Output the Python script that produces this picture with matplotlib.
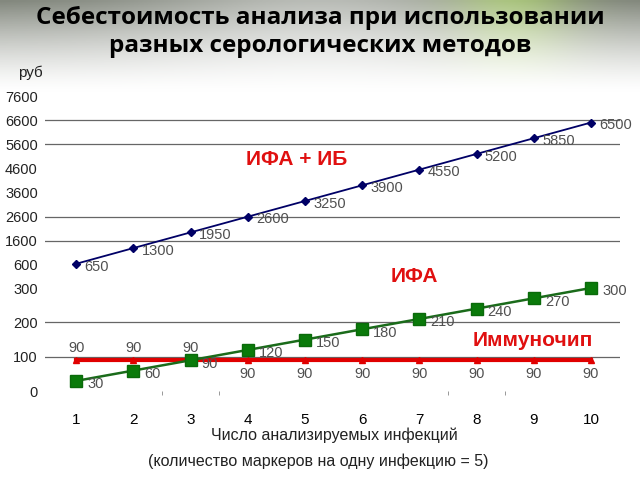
import matplotlib.pyplot as plt
import numpy as np

plt.rcParams['font.family'] = ['Liberation Sans', 'DejaVu Sans']

infections = [1, 2, 3, 4, 5, 6, 7, 8, 9, 10]
ifa_ib = [650, 1300, 1950, 2600, 3250, 3900, 4550, 5200, 5850, 6500]
ifa = [30, 60, 90, 120, 150, 180, 210, 240, 270, 300]
immunochip = [90, 90, 90, 90, 90, 90, 90, 90, 90, 90]

top_ticks = [600, 1600, 2600, 3600, 4600, 5600, 6600, 7600]
top_grid = [1600, 2600, 5600, 6600]
bottom_ticks = [0, 100, 200, 300]
bottom_grid = [100, 200]

fig = plt.figure(figsize=(6.4, 4.8), dpi=100)

# background: grey-green fade at the top
bg = fig.add_axes([0, 0, 1, 1], zorder=-10)
h = np.linspace(0, 1, 200)
fade = np.clip(1 - h / 0.19, 0, 1) ** 1.4
img = np.ones((200, 320, 3))
xs = np.linspace(0, 1, 320)
green = np.exp(-((xs - 0.8) / 0.1) ** 2)
glow = np.exp(-((xs - 0.5) / 0.3) ** 2)
for c, (base, g) in enumerate(zip([0.5, 0.52, 0.48], [0.6, 0.72, 0.4])):
    col = base * (1 - green[None, :]) + g * green[None, :]
    col = col + (1 - col) * 0.45 * glow[None, :]
    img[:, :, c] = 1 - fade[:, None] * (1 - col)
bg.imshow(img, aspect='auto', extent=[0, 1, 0, 1])
bg.set_axis_off()

fig.text(0.5, 0.963, "Себестоимость анализа при использовании",
         ha='center', va='center', fontsize=17.5, fontweight='bold',
         family=['Open Sans', 'DejaVu Sans'])
fig.text(0.5, 0.905, "разных серологических методов",
         ha='center', va='center', fontsize=17.5, fontweight='bold',
         family=['Open Sans', 'DejaVu Sans'])
fig.text(0.028, 0.848, "руб", fontsize=11, va='center', color='#222222')

ax1 = fig.add_axes([0.07, 0.448, 0.898, 0.352])
ax2 = fig.add_axes([0.07, 0.185, 0.898, 0.215])

for ax in (ax1, ax2):
    ax.patch.set_alpha(0)
    for s in ax.spines.values():
        s.set_visible(False)
    ax.set_xlim(0.45, 10.5)
    ax.tick_params(axis='y', length=0, labelsize=10.5, labelcolor='#222222', pad=5)

label_color = '#505050'

# top panel
ax1.set_ylim(600, 7600)
ax1.set_yticks(top_ticks)
ax1.set_xticks([])
for g in top_grid:
    ax1.axhline(g, color='#666666', lw=0.9, zorder=0)
ax1.plot(infections, ifa_ib, color='#000066', lw=1.3, marker='D', markersize=4.5, clip_on=False)
for x, y in zip(infections, ifa_ib):
    ax1.annotate(str(y), (x, y), xytext=(6, -2), textcoords='offset points',
                 fontsize=10.5, color=label_color, va='center')

# bottom panel
ax2.set_ylim(0, 300)
ax2.set_yticks(bottom_ticks)
for g in bottom_grid:
    ax2.axhline(g, color='#666666', lw=0.9, zorder=0)
ax2.plot(infections, immunochip, color='#e00000', lw=3, marker='^', markersize=4, zorder=2,
         clip_on=False)
ax2.plot(infections, ifa, color='#1a6b1a', lw=1.8, marker='s', markersize=8.5,
         markerfacecolor='#0a7a0a', markeredgecolor='#0a6a0a', zorder=3, clip_on=False)
for x, y in zip(infections, ifa):
    ax2.annotate(str(y), (x, y), xytext=(8, -2.5), textcoords='offset points',
                 fontsize=10.5, color=label_color, va='center')
for x, y in zip(infections, immunochip):
    if x <= 3:
        ax2.annotate(str(y), (x, y), xytext=(0, 9), textcoords='offset points',
                     fontsize=10.5, color=label_color, ha='center', va='center')
    else:
        ax2.annotate(str(y), (x, y), xytext=(0, -10), textcoords='offset points',
                     fontsize=10.5, color=label_color, ha='center', va='center')

ax2.set_xticks(infections)
ax2.set_xticks([2.5, 3.5, 7.5, 8.5], minor=True)
ax2.tick_params(axis='x', which='major', length=0, labelsize=11, pad=16)
ax2.tick_params(axis='x', which='minor', length=3, color='#888888', direction='out')

# series names
fig.text(0.463, 0.667, "ИФА + ИБ", color='#e01010', fontsize=15, fontweight='bold',
         ha='center', va='center')
fig.text(0.648, 0.425, "ИФА", color='#e01010', fontsize=15, fontweight='bold',
         ha='center', va='center')
fig.text(0.833, 0.29, "Иммуночип", color='#e01010', fontsize=15, fontweight='bold',
         ha='center', va='center')

fig.text(0.523, 0.094, "Число анализируемых инфекций", ha='center', va='center',
         fontsize=11.5, color='#222222')
fig.text(0.498, 0.04, "(количество маркеров на одну инфекцию = 5)", ha='center', va='center',
         fontsize=11.5, color='#222222')

fig.savefig("out.png", dpi=100)
